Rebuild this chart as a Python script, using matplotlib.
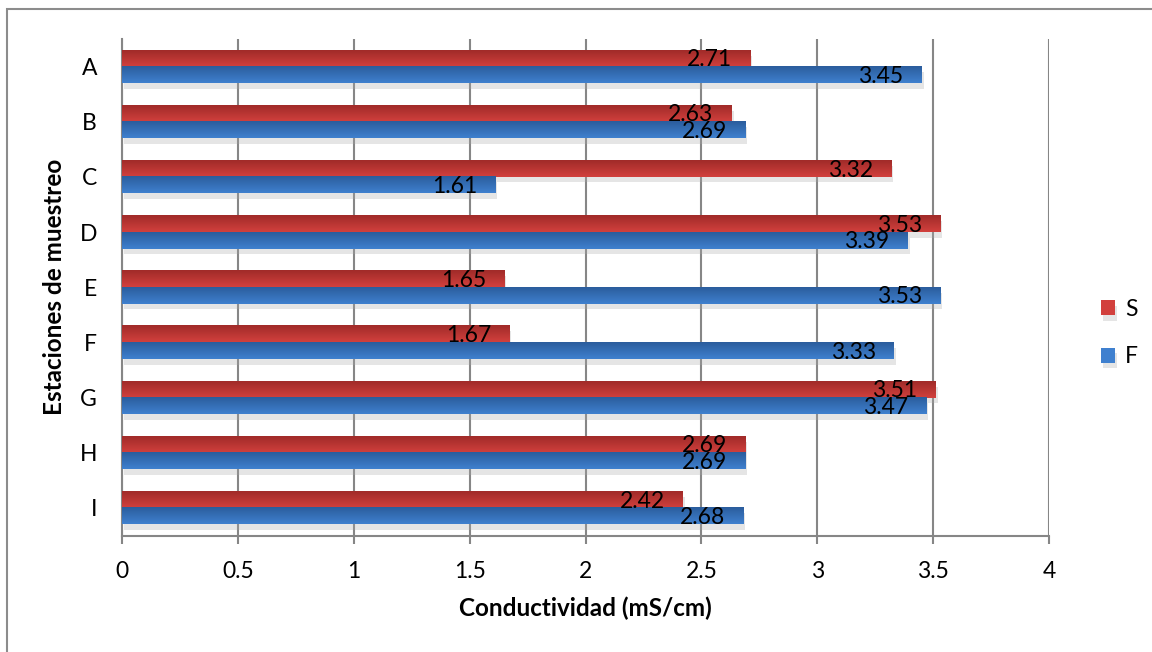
import matplotlib.pyplot as plt
import matplotlib.patheffects as pe
from matplotlib.colors import LinearSegmentedColormap
from matplotlib.patches import Rectangle
import numpy as np

# datos
estaciones = ['A', 'B', 'C', 'D', 'E', 'F', 'G', 'H', 'I']
valores_s = [2.71, 2.63, 3.32, 3.53, 1.65, 1.67, 3.51, 2.69, 2.42]
valores_f = [3.45, 2.69, 1.61, 3.39, 3.53, 3.33, 3.47, 2.69, 2.68]
series = ['S', 'F']
ticks_x = [0, 0.5, 1, 1.5, 2, 2.5, 3, 3.5, 4]

plt.rcParams['font.family'] = ['Lato', 'DejaVu Sans']

rojo = ['#D2403D', '#A02B29']
azul = ['#3F80CF', '#2B5D9C']

fig = plt.figure(figsize=(11.52, 6.52), dpi=100)
ax = fig.add_axes([122 / 1152, 1 - 535.5 / 652, (1049 - 122) / 1152, (535.5 - 39) / 652])

# marco exterior del grafico
fig.patches.append(Rectangle((7 / 1152, -0.05), 1.1, 1 - 9 / 652 + 0.05, transform=fig.transFigure,
                             fill=False, edgecolor='#8C8C8C', linewidth=1.5))

y = np.arange(len(estaciones))
alto = 0.3
sombra = [pe.SimplePatchShadow(offset=(1.5, -4), shadow_rgbFace='#AAAAAA', alpha=0.3), pe.Normal()]

barras_s = ax.barh(y - alto / 2, valores_s, height=alto, color=rojo[0], label='S', zorder=3,
                   path_effects=sombra)
barras_f = ax.barh(y + alto / 2, valores_f, height=alto, color=azul[0], label='F', zorder=3,
                   path_effects=sombra)

# degradado vertical sobre cada barra
grad = np.linspace(0, 1, 64).reshape(-1, 1)
for barras, cols in [(barras_s, rojo), (barras_f, azul)]:
    cmap = LinearSegmentedColormap.from_list('g', cols)
    for b in barras:
        x0, y0 = b.get_x(), b.get_y()
        ax.imshow(grad, cmap=cmap, aspect='auto', zorder=4, interpolation='bilinear',
                  extent=[x0, x0 + b.get_width(), y0, y0 + b.get_height()])

for barras, vals in [(barras_s, valores_s), (barras_f, valores_f)]:
    for b, v in zip(barras, vals):
        ax.annotate(f'{v:.2f}', xy=(b.get_width(), b.get_y() + b.get_height() / 2),
                    xytext=(-13, -1), textcoords='offset points', ha='right', va='center',
                    fontsize=16.5, color='black', zorder=6)

ax.set_xlim(0, 4)
ax.set_ylim(len(estaciones) - 0.5, -0.5)
ax.set_xticks(ticks_x)
ax.set_xticklabels([f'{t:g}' for t in ticks_x])
ax.set_yticks(y)
ax.set_yticklabels(estaciones)
ax.tick_params(axis='x', labelsize=16.5, length=6, width=1.5, color='#868686', pad=12)
ax.tick_params(axis='y', labelsize=16.5, length=0, pad=18)
ax.grid(axis='x', color='#868686', linewidth=1.5, zorder=0)
ax.set_axisbelow(True)
for lado in ['top', 'right']:
    ax.spines[lado].set_visible(False)
for lado in ['left', 'bottom']:
    ax.spines[lado].set_color('#868686')
    ax.spines[lado].set_linewidth(1.5)

ax.set_xlabel('Conductividad (mS/cm)', fontsize=17.5, fontweight='bold', labelpad=11)
ax.set_ylabel('Estaciones de muestreo', fontsize=17.5, fontweight='bold', labelpad=10)

ley = ax.legend(handles=[barras_s, barras_f], labels=series, loc='center left',
                bbox_to_anchor=(1080 / 1152, 1 - 333 / 652), bbox_transform=fig.transFigure,
                frameon=False, fontsize=16.5, handlelength=0.62, handleheight=0.62,
                labelspacing=1.15, handletextpad=0.45)

fig.savefig('out.png', dpi=100)
